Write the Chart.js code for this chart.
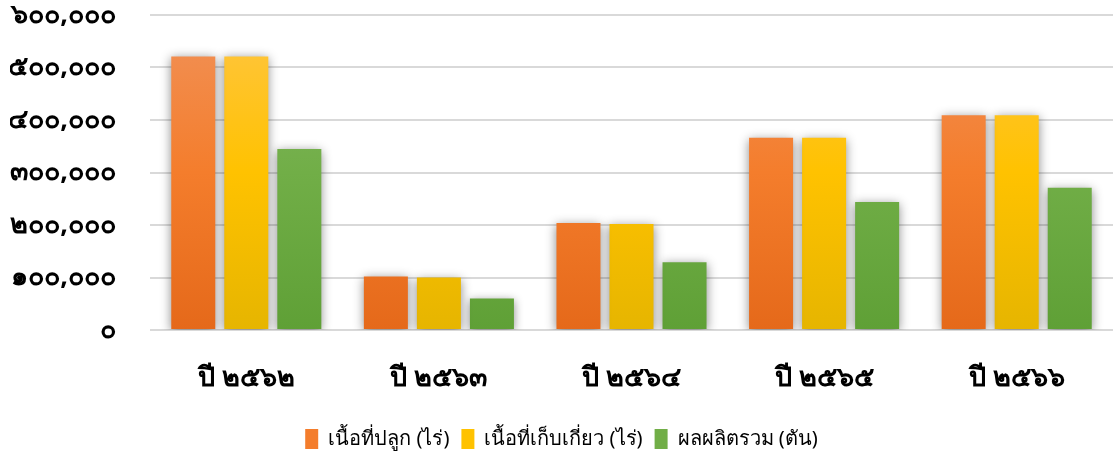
<!DOCTYPE html>
<html>
<head>
<meta charset="utf-8">
<script src="https://cdn.jsdelivr.net/npm/chart.js@4.4.1/dist/chart.umd.min.js"></script>
<style>
  html, body { margin: 0; padding: 0; background: #fff; }
  #wrap { width: 1113px; height: 462px; position: relative; }
</style>
</head>
<body>
<div id="wrap"><canvas id="chart"></canvas></div>
<script>
const categories = ['ปี ๒๕๖๒', 'ปี ๒๕๖๓', 'ปี ๒๕๖๔', 'ปี ๒๕๖๕', 'ปี ๒๕๖๖'];
const plantedArea = [521000, 102000, 204000, 366000, 409000];
const harvestedArea = [521000, 100000, 202000, 366000, 409000];
const totalYield = [345000, 60000, 129000, 244000, 271000];
const seriesNames = ['เนื้อที่ปลูก (ไร่)', 'เนื้อที่เก็บเกี่ยว (ไร่)', 'ผลผลิตรวม (ตัน)'];
const yTicks = [0, 100000, 200000, 300000, 400000, 500000, 600000];

const thaiDigits = ['๐', '๑', '๒', '๓', '๔', '๕', '๖', '๗', '๘', '๙'];
function toThai(n) {
    return n.toLocaleString('en-US').replace(/[0-9]/g, d => thaiDigits[+d]);
}

// vertical gradient per series: top, middle, bottom
const palettes = [
    ['#F19259', '#F47D2C', '#E5691A'],
    ['#FFC545', '#FFC200', '#E6B500'],
    ['#85B766', '#71AE47', '#5FA036']
];

function gradientFor(idx) {
    return (ctx) => {
        const area = ctx.chart.chartArea;
        if (!area) return palettes[idx][1];
        const g = ctx.chart.ctx.createLinearGradient(0, area.top, 0, area.bottom);
        g.addColorStop(0, palettes[idx][0]);
        g.addColorStop(0.5, palettes[idx][1]);
        g.addColorStop(1, palettes[idx][2]);
        return g;
    };
}

// soft shadow behind bars
const barShadow = {
    id: 'barShadow',
    beforeDatasetsDraw(chart) {
        const c = chart.ctx;
        c.save();
        c.shadowColor = 'rgba(0,0,0,0.45)';
        c.shadowBlur = 10;
        c.shadowOffsetX = 0;
        c.shadowOffsetY = 2;
    },
    afterDatasetsDraw(chart) {
        chart.ctx.restore();
    }
};

const fontFamily = '"Noto Sans", "DejaVu Sans", sans-serif';

new Chart(document.getElementById('chart'), {
    type: 'bar',
    data: {
        labels: categories,
        datasets: [plantedArea, harvestedArea, totalYield].map((d, i) => ({
            label: seriesNames[i],
            data: d,
            backgroundColor: gradientFor(i),
            borderWidth: 0,
            categoryPercentage: 0.826,
            barPercentage: 0.83
        }))
    },
    plugins: [barShadow],
    options: {
        responsive: true,
        maintainAspectRatio: false,
        animation: false,
        layout: { padding: { left: 10, right: 0, top: 15, bottom: 3 } },
        plugins: {
            tooltip: { enabled: false },
            legend: {
                position: 'bottom',
                labels: {
                    boxWidth: 13,
                    boxHeight: 20,
                    padding: 12,
                    color: '#000',
                    font: { family: fontFamily, size: 20 },
                    generateLabels(chart) {
                        return chart.data.datasets.map((ds, i) => ({
                            text: ds.label,
                            fillStyle: palettes[i][1],
                            lineWidth: 0,
                            strokeStyle: 'transparent',
                            datasetIndex: i
                        }));
                    }
                }
            }
        },
        scales: {
            x: {
                afterFit(scale) { scale.height = 87; },
                grid: { display: false, drawTicks: false },
                border: { display: false },
                ticks: {
                    color: '#000',
                    padding: 32,
                    font: { family: fontFamily, size: 27, weight: 'bold' }
                }
            },
            y: {
                min: 0,
                max: 600000,
                afterFit(scale) {
                    scale.width = 140;
                    scale.paddingTop = 10;
                    scale.paddingBottom = 10;
                },
                afterBuildTicks(scale) {
                    scale.ticks = yTicks.map(v => ({ value: v }));
                },
                grid: { color: '#D9D9D9', lineWidth: 2, drawTicks: false },
                border: { display: false },
                ticks: {
                    color: '#000',
                    padding: 34,
                    font: { family: fontFamily, size: 27, weight: 'bold' },
                    callback: v => toThai(v)
                }
            }
        }
    }
});
</script>
</body>
</html>
